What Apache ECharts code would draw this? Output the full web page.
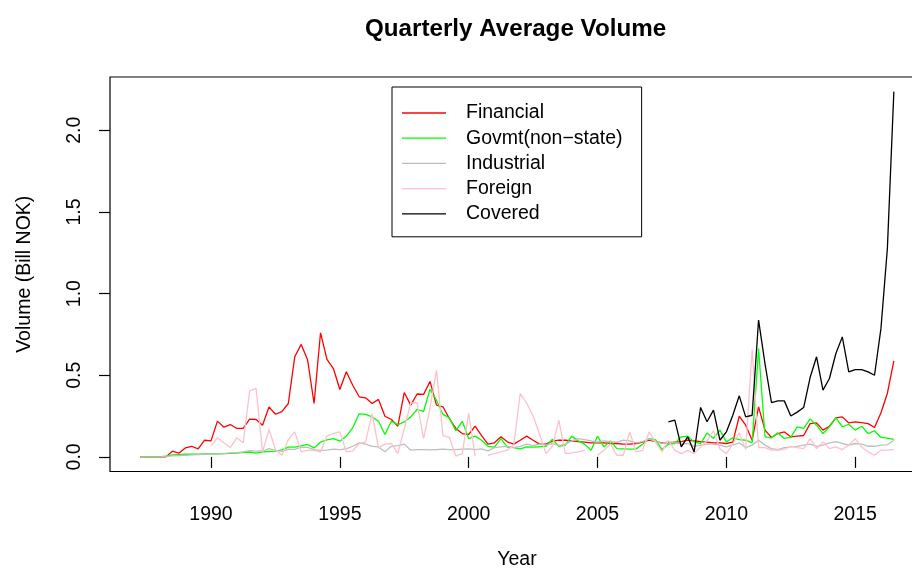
<!DOCTYPE html>
<html>
<head>
<meta charset="utf-8">
<script src="https://cdn.jsdelivr.net/npm/echarts@6/dist/echarts.min.js"></script>
<style>
  html, body { margin: 0; padding: 0; background: #fff; }
  #chart { width: 912px; height: 569px; }
</style>
</head>
<body>
<div id="chart"></div>
<script>
// quarterly series, first quarter 1987.25, last 2016.5
var firstQuarter = 1987.25;
var seriesNames = ['Financial', 'Govmt(non\u2212state)', 'Industrial', 'Foreign', 'Covered'];
var seriesColors = ['#ff0000', '#00ff00', '#bebebe', '#ffc0cb', '#000000'];
var yearTicks = [1990, 1995, 2000, 2005, 2010, 2015];
var volumeTicks = [0, 0.5, 1, 1.5, 2];

var financial = [
  0, 0, 0, 0, 0, 0.035, 0.023, 0.055, 0.065, 0.049,
  0.102, 0.098, 0.219, 0.182, 0.198, 0.174, 0.174, 0.231, 0.229, 0.194,
  0.306, 0.261, 0.277, 0.327, 0.613, 0.689, 0.593, 0.327, 0.76, 0.597,
  0.541, 0.413, 0.521, 0.439, 0.368, 0.362, 0.327, 0.352, 0.249, 0.229,
  0.188, 0.394, 0.317, 0.385, 0.383, 0.462, 0.317, 0.307, 0.235, 0.174,
  0.143, 0.137, 0.188, 0.13, 0.078, 0.086, 0.123, 0.092, 0.078, 0.102,
  0.127, 0.102, 0.078, 0.078, 0.096, 0.102, 0.102, 0.098, 0.094, 0.09,
  0.086, 0.086, 0.086, 0.082, 0.082, 0.078, 0.078, 0.082, 0.09, 0.102,
  0.094, 0.086, 0.086, 0.09, 0.094, 0.102, 0.098, 0.094, 0.09, 0.086,
  0.086, 0.082, 0.09, 0.249, 0.194, 0.102, 0.306, 0.164, 0.119, 0.143,
  0.153, 0.123, 0.127, 0.131, 0.204, 0.208, 0.164, 0.188, 0.239, 0.245,
  0.208, 0.214, 0.21, 0.204, 0.18, 0.27, 0.39, 0.588
];
var govmt = [
  0, 0, 0, 0, 0.004, 0.012, 0.014, 0.016, 0.016, 0.016,
  0.018, 0.02, 0.018, 0.02, 0.022, 0.023, 0.027, 0.03, 0.023, 0.031,
  0.033, 0.035, 0.043, 0.06, 0.06, 0.068, 0.076, 0.055, 0.09, 0.104,
  0.112, 0.096, 0.127, 0.178, 0.264, 0.26, 0.245, 0.218, 0.137, 0.218,
  0.198, 0.214, 0.245, 0.29, 0.278, 0.415, 0.347, 0.26, 0.239, 0.16,
  0.218, 0.112, 0.127, 0.102, 0.065, 0.06, 0.112, 0.06, 0.057, 0.049,
  0.061, 0.06, 0.062, 0.065, 0.108, 0.065, 0.072, 0.127, 0.098, 0.078,
  0.041, 0.127, 0.061, 0.098, 0.051, 0.049, 0.047, 0.049, 0.078, 0.112,
  0.106, 0.045, 0.078, 0.082, 0.123, 0.127, 0.092, 0.082, 0.147, 0.113,
  0.164, 0.092, 0.117, 0.106, 0.102, 0.086, 0.664, 0.123, 0.117, 0.147,
  0.113, 0.119, 0.184, 0.174, 0.233, 0.194, 0.143, 0.184, 0.241, 0.184,
  0.2, 0.164, 0.188, 0.143, 0.16, 0.119, 0.115, 0.107
];
var industrial = [
  0, 0, 0, 0, 0.003, 0.006, 0.008, 0.01, 0.012, 0.014,
  0.016, 0.018, 0.018, 0.02, 0.024, 0.026, 0.03, 0.038, 0.035, 0.036,
  0.05, 0.04, 0.034, 0.047, 0.046, 0.06, 0.058, 0.044, 0.04, 0.041,
  0.047, 0.045, 0.049, 0.065, 0.086, 0.078, 0.065, 0.061, 0.031, 0.065,
  0.069, 0.078, 0.041, 0.045, 0.045, 0.043, 0.045, 0.047, 0.045, 0.045,
  0.047, 0.049, 0.045, 0.049, 0.037, 0.057, 0.061, 0.065, 0.057, 0.065,
  0.078, 0.069, 0.078, 0.072, 0.082, 0.069, 0.078, 0.098, 0.112, 0.106,
  0.098, 0.09, 0.098, 0.094, 0.09, 0.102, 0.098, 0.086, 0.094, 0.11,
  0.094, 0.082, 0.094, 0.086, 0.078, 0.082, 0.065, 0.072, 0.078, 0.078,
  0.072, 0.061, 0.072, 0.086, 0.057, 0.072, 0.102, 0.072, 0.051, 0.045,
  0.057, 0.061, 0.065, 0.072, 0.078, 0.065, 0.072, 0.086, 0.094, 0.082,
  0.072, 0.082, 0.078, 0.065, 0.065, 0.072, 0.074, 0.102
];
var foreign = [
  null, null, null, null, null, null, null, null, null, null,
  null, 0.066, 0.117, 0.086, 0.057, 0.117, 0.086, 0.404, 0.419, 0.031,
  0.168, 0.045, 0.01, 0.106, 0.153, 0.031, 0.04, 0.04, 0.031, 0.127,
  0.143, 0.153, 0.031, 0.037, 0.082, 0.092, 0.266, 0.055, 0.078, 0.082,
  0.02, 0.174, 0.33, 0.33, 0.112, 0.3, 0.53, 0.13, 0.119, 0.005,
  0.02, 0.266, 0.005, null, 0.01, 0.02, 0.031, 0.041, 0.072, 0.388,
  0.33, 0.25, 0.14, 0.02, 0.065, 0.225, 0.02, 0.025, 0.031, 0.04,
  null, 0.01, 0.04, 0.08, 0.01, 0.01, 0.153, 0.03, 0.04, 0.153,
  0.09, 0.03, 0.102, 0.04, 0.02, 0.04, 0.02, 0.06, 0.1, 0.16,
  0.05, 0.02, 0.08, 0.147, 0.046, 0.658, 0.057, 0.057, 0.041, 0.041,
  0.045, 0.065, 0.057, 0.051, 0.112, 0.051, 0.092, 0.051, 0.061, 0.045,
  0.072, 0.112, 0.061, 0.031, 0.01, 0.041, 0.041, 0.045
];
var covered = [
  null, null, null, null, null, null, null, null, null, null,
  null, null, null, null, null, null, null, null, null, null,
  null, null, null, null, null, null, null, null, null, null,
  null, null, null, null, null, null, null, null, null, null,
  null, null, null, null, null, null, null, null, null, null,
  null, null, null, null, null, null, null, null, null, null,
  null, null, null, null, null, null, null, null, null, null,
  null, null, null, null, null, null, null, null, null, null,
  null, null, 0.215, 0.225, 0.061, 0.123, 0.03, 0.303, 0.215, 0.286,
  0.102, 0.153, 0.255, 0.374, 0.245, 0.255, 0.838, 0.57, 0.333, 0.343,
  0.343, 0.25, 0.274, 0.302, 0.486, 0.613, 0.409, 0.48, 0.633, 0.735,
  0.521, 0.535, 0.535, 0.521, 0.5, 0.787, 1.28, 2.237
];

var allValues = [financial, govmt, industrial, foreign, covered];

function withYears(values) {
  return values.map(function (v, i) {
    return [firstQuarter + i * 0.25, v];
  });
}

var font = 'Liberation Sans, Arial, Helvetica, sans-serif';
var chart = echarts.init(document.getElementById('chart'), null, { renderer: 'canvas' });

chart.setOption({
  animation: false,
  backgroundColor: '#ffffff',
  title: {
    text: 'Quarterly Average Volume',
    left: 365,
    top: 17,
    padding: 0,
    textStyle: { fontFamily: font, fontSize: 24.2, fontWeight: 'bold', color: '#000' }
  },
  legend: {
    left: 392,
    top: 87,
    orient: 'vertical',
    padding: [16, 19, 13, 10],
    itemGap: 5.2,
    itemWidth: 44,
    itemHeight: 1.3,
    icon: 'rect',
    borderColor: '#000',
    borderWidth: 1,
    borderRadius: 0,
    backgroundColor: '#fff',
    selectedMode: false,
    data: seriesNames,
    textStyle: { fontFamily: font, fontSize: 19.5, color: '#000', lineHeight: 20, padding: [0, 0, 0, 15] }
  },
  grid: {
    left: 110,
    top: 77,
    right: -12,
    bottom: 97.5,
    containLabel: false,
    outerBoundsMode: 'none',
    show: true,
    borderColor: '#000',
    borderWidth: 1.2,
    backgroundColor: 'transparent'
  },
  xAxis: {
    type: 'value',
    min: 1986.08,
    max: 2017.67,
    name: 'Year',
    nameLocation: 'middle',
    nameGap: 78,
    nameTextStyle: { fontFamily: font, fontSize: 19.5, color: '#000' },
    axisLine: { show: false },
    splitLine: { show: false },
    axisTick: { show: true, length: 11, customValues: yearTicks, lineStyle: { color: '#000', width: 1.2 } },
    axisLabel: {
      customValues: yearTicks,
      margin: 33,
      fontFamily: font,
      fontSize: 19.5,
      color: '#000',
      formatter: function (v) { return String(v); }
    }
  },
  yAxis: {
    type: 'value',
    min: -0.0895,
    max: 2.3265,
    name: 'Volume (Bill NOK)',
    nameLocation: 'middle',
    nameRotate: 90,
    nameGap: 75,
    nameTextStyle: { fontFamily: font, fontSize: 19.5, color: '#000' },
    axisLine: { show: false },
    splitLine: { show: false },
    axisTick: { show: true, length: 11, customValues: volumeTicks, lineStyle: { color: '#000', width: 1.2 } },
    axisLabel: {
      customValues: volumeTicks,
      rotate: 90,
      margin: 25,
      fontFamily: font,
      fontSize: 19.5,
      color: '#000',
      formatter: function (v) { return v.toFixed(1); }
    }
  },
  series: seriesNames.map(function (name, k) {
    return {
      name: name,
      type: 'line',
      data: withYears(allValues[k]),
      symbol: 'none',
      connectNulls: false,
      color: seriesColors[k],
      lineStyle: { color: seriesColors[k], width: 1.3 }
    };
  })
});
</script>
</body>
</html>
